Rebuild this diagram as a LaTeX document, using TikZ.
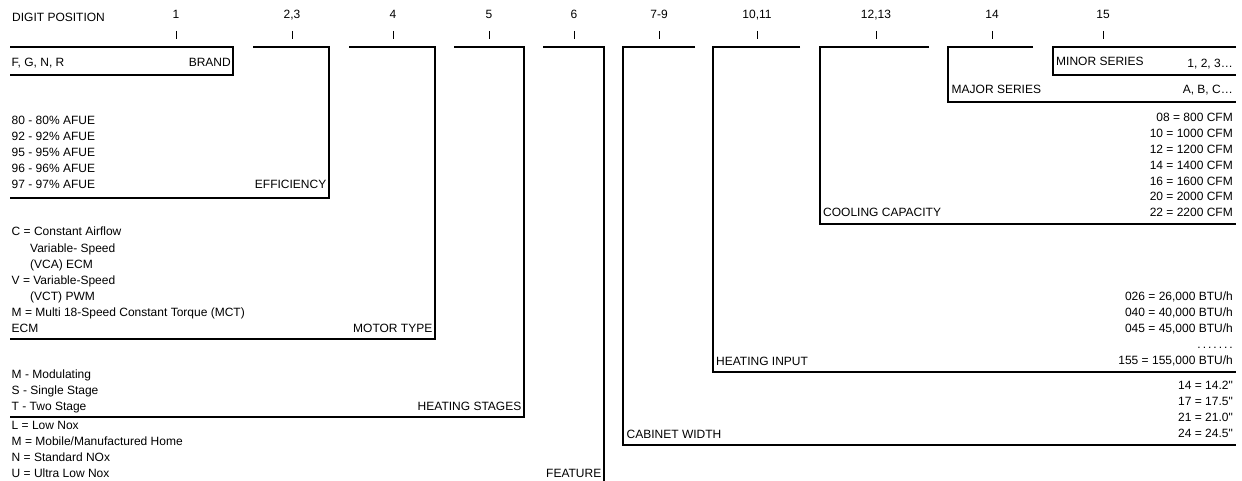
\documentclass[tikz,border=0pt]{standalone}
\usepackage{fontspec}
\setmainfont{Liberation Sans}[Ligatures=TeXOff]

\tikzset{
  bar/.style={line width=2pt},
  tick/.style={line width=0.8pt},
  lbl/.style={font=\fontsize{12}{16}\selectfont, inner sep=0pt},
}

\begin{document}
\begin{tikzpicture}[x=1pt, y=-1pt] % one unit = one pixel of the reference, y downwards

    \useasboundingbox (0,0) rectangle (1242,481);

    % --- Coordinates (corner of each bracket on the top row) ---
    \coordinate (Brand)   at (233,47);
    \coordinate (Eff)     at (329,47);
    \coordinate (Motor)   at (435,47);
    \coordinate (Stages)  at (524,47);
    \coordinate (Feature) at (604,47);
    \coordinate (Cabinet) at (623,47);
    \coordinate (Input)   at (713,47);
    \coordinate (Cooling) at (820,47);
    \coordinate (Major)   at (948,47);
    \coordinate (Minor)   at (1053,47);

    % --- Drawing ---
    % Left-hand brackets
    \draw[bar] (10,47)  -- (Brand)   |- (10,75);
    \draw[bar] (253,47) -- (Eff)     |- (10,198);
    \draw[bar] (349,47) -- (Motor)   |- (10,339);
    \draw[bar] (454,47) -- (Stages)  |- (10,417);
    \draw[bar] (543,47) -- (Feature) -- (604,481);

    % Right-hand brackets
    \draw[bar] (695,47)  -- (Cabinet) |- (1236,445);
    \draw[bar] (800,47)  -- (Input)   |- (1236,372);
    \draw[bar] (929,47)  -- (Cooling) |- (1236,224);
    \draw[bar] (1033,47) -- (Major)   |- (1236,102);
    \draw[bar] (1236,47) -- (Minor)   |- (1236,75);

    % --- Header ---
    \node[lbl, anchor=base west] (title) at (12,22) {DIGIT POSITION};
    \foreach \x/\t [count=\i] in {176/1, 292/{2,3}, 393/4, 489/5, 574/6,
        659/7-9, 757/{10,11}, 876/{12,13}, 992/14, 1103/15} {
      \node[lbl, anchor=base] (pos\i) at (\x,19) {\t};
      \draw[tick] (\x,31) -- (\x,39);
    }

    % --- Labels, left side ---
    \node[lbl, anchor=base west] (brandval) at (11.5,67) {F, G, N, R};
    \node[lbl, anchor=base east] (brandlbl) at (231,67) {BRAND};

    \foreach \t [count=\i from 0] in {80 - 80\% AFUE, 92 - 92\% AFUE,
        95 - 95\% AFUE, 96 - 96\% AFUE, 97 - 97\% AFUE}
      \node[lbl, anchor=base west] (afue\i) at (11.5,125+16*\i) {\t};
    \node[lbl, anchor=base east] (efflbl) at (326.5,189) {EFFICIENCY};

    \foreach \x/\t [count=\i from 0] in {11.5/C = Constant Airflow,
        30/Variable- Speed, 30/(VCA) ECM, 11.5/V = Variable-Speed,
        30/(VCT) PWM, 11.5/M = Multi 18-Speed Constant Torque (MCT), 11.5/ECM}
      \node[lbl, anchor=base west] (motor\i) at (\x,236+16*\i) {\t};
    \node[lbl, anchor=base east] (motorlbl) at (432.5,332) {MOTOR TYPE};

    \foreach \t [count=\i from 0] in {M - Modulating, S - Single Stage, T - Two Stage}
      \node[lbl, anchor=base west] (stage\i) at (11.5,378+16*\i) {\t};
    \node[lbl, anchor=base east] (stagelbl) at (521.5,410) {HEATING STAGES};

    \foreach \t [count=\i from 0] in {L = Low Nox, M = Mobile/Manufactured Home,
        N = Standard NOx, U = Ultra Low Nox}
      \node[lbl, anchor=base west] (feat\i) at (11.5,429+16*\i) {\t};
    \node[lbl, anchor=base east] (featlbl) at (601.5,477) {FEATURE};

    % --- Labels, right side ---
    \node[lbl, anchor=base west] (minorlbl) at (1056,66) {MINOR SERIES};
    \node[lbl, anchor=base east] (minorval) at (1233,68) {1, 2, 3…};

    \node[lbl, anchor=base west] (majorlbl) at (951.5,94) {MAJOR SERIES};
    \node[lbl, anchor=base east] (majorval) at (1233,94) {A, B, C…};

    \foreach \t [count=\i from 0] in {08 = 800 CFM, 10 = 1000 CFM, 12 = 1200 CFM,
        14 = 1400 CFM, 16 = 1600 CFM, 20 = 2000 CFM, 22 = 2200 CFM}
      \node[lbl, anchor=base east] (cfm\i) at (1233,122+15.8*\i) {\t};
    \node[lbl, anchor=base west] (coollbl) at (823,217) {COOLING CAPACITY};

    \node[lbl, anchor=base east] (btu0) at (1233,300) {026 = 26,000 BTU/h};
    \node[lbl, anchor=base east] (btu1) at (1233,316) {040 = 40,000 BTU/h};
    \node[lbl, anchor=base east] (btu2) at (1233,332) {045 = 45,000 BTU/h};
    \node[lbl, anchor=base east] (btu3) at (1233,348) {.\,.\,.\,.\,.\,.\,.};
    \node[lbl, anchor=base east] (btu4) at (1233,364) {155 = 155,000 BTU/h};
    \node[lbl, anchor=base west] (inputlbl) at (716,365) {HEATING INPUT};

    \foreach \t [count=\i from 0] in {14 = 14.2", 17 = 17.5", 21 = 21.0", 24 = 24.5"}
      \node[lbl, anchor=base east] (width\i) at (1233,389+16*\i) {\t};
    \node[lbl, anchor=base west] (cablbl) at (626.5,438) {CABINET WIDTH};

\end{tikzpicture}
\end{document}
